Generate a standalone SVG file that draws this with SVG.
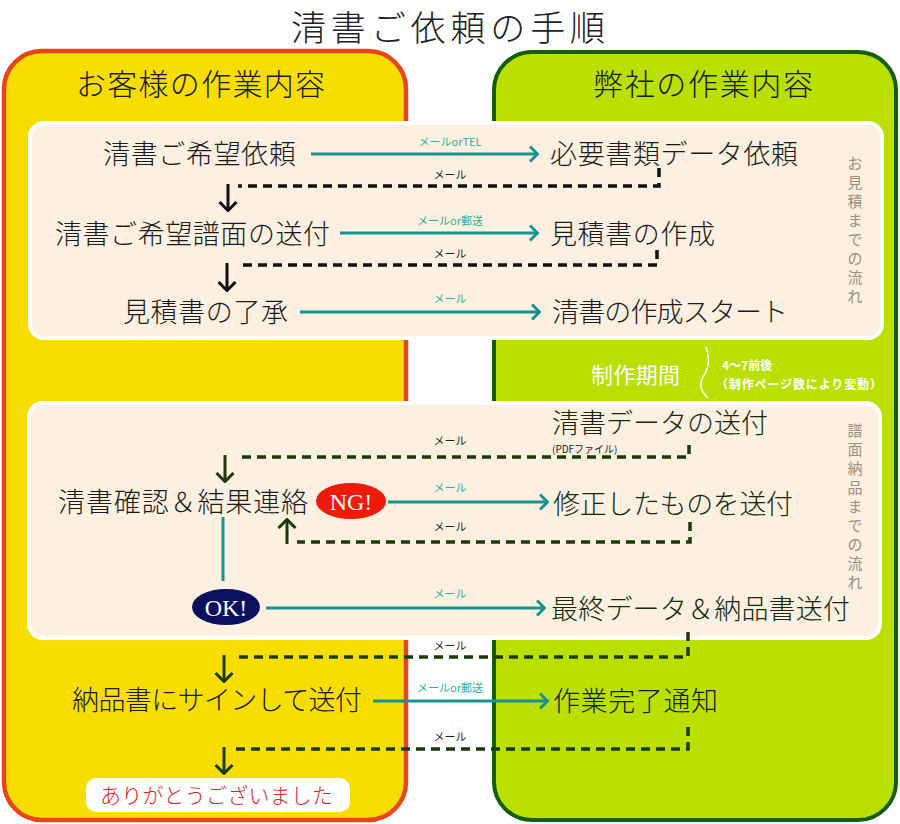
<svg xmlns="http://www.w3.org/2000/svg" width="900" height="824" viewBox="0 0 900 824">
<style>
text{font-family:"Noto Sans CJK JP","Noto Sans",sans-serif}
.main{font-size:27px;fill:#1a1a1a;font-weight:300}
.mainG{font-size:27px;fill:#14280a;font-weight:300}
.tl{font-size:11px;fill:#2aae9e;text-anchor:middle}
.bl{font-size:11px;fill:#222;text-anchor:middle}
.side{font-size:15px;fill:#9c8e80;text-anchor:middle}
.teal{stroke:#17938f;stroke-width:3;fill:none}
.dashK{stroke:#111;stroke-width:3.5;fill:none;stroke-dasharray:9 6}
.dashG{stroke:#1b3a08;stroke-width:3.5;fill:none;stroke-dasharray:9 6}
.arrK{stroke:#111;stroke-width:3;fill:none}
.arrG{stroke:#1b3a08;stroke-width:3;fill:none}
.oval{font-family:"Liberation Serif",serif;font-size:24px;fill:#fff;text-anchor:middle}
</style>
<defs>
<marker id="th" viewBox="0 0 10 18" refX="9" refY="9" markerWidth="10" markerHeight="18" markerUnits="userSpaceOnUse" orient="auto">
<path d="M1,1.5 L8.5,9 L1,16.5" fill="none" stroke="#17938f" stroke-width="3"/>
</marker>
<marker id="kh" viewBox="0 0 11 20" refX="10" refY="10" markerWidth="11" markerHeight="20" markerUnits="userSpaceOnUse" orient="auto">
<path d="M1,1.5 L9.5,10 L1,18.5" fill="none" stroke="#111" stroke-width="3"/>
</marker>
<marker id="gh" viewBox="0 0 11 20" refX="10" refY="10" markerWidth="11" markerHeight="20" markerUnits="userSpaceOnUse" orient="auto">
<path d="M1,1.5 L9.5,10 L1,18.5" fill="none" stroke="#1b3a08" stroke-width="3"/>
</marker>
</defs>
<rect width="900" height="824" fill="#fff"/>
<text x="291" y="41" font-size="35" font-weight="300" fill="#222" textLength="314">清書ご依頼の手順</text>

<g id="panel-customer">
<rect x="4" y="51" width="402" height="769" rx="38" fill="#f8de00" stroke="#e8461a" stroke-width="4.5"/>
<text x="76" y="95" font-size="30" font-weight="300" fill="#1a1a1a" textLength="249">お客様の作業内容</text>
</g>
<g id="panel-company">
<rect x="494" y="52" width="402" height="768" rx="38" fill="#b9e000" stroke="#135e06" stroke-width="4"/>
<text x="593" y="95" font-size="30" font-weight="300" fill="#1a1a1a" textLength="220">弊社の作業内容</text>
</g>

<g id="box-estimate">
<rect x="30" y="123" width="852" height="215" rx="14" fill="#fdf0e0" stroke="#fff" stroke-width="4"/>
<text class="side"><tspan x="855" y="169">お</tspan><tspan x="855" y="188">見</tspan><tspan x="855" y="207">積</tspan><tspan x="855" y="226">ま</tspan><tspan x="855" y="245">で</tspan><tspan x="855" y="264">の</tspan><tspan x="855" y="283">流</tspan><tspan x="855" y="302">れ</tspan></text>
</g>
<g id="box-delivery">
<rect x="29" y="403" width="851" height="235" rx="14" fill="#fdf0e0" stroke="#fff" stroke-width="4"/>
<text class="side"><tspan x="855" y="436">譜</tspan><tspan x="855" y="455">面</tspan><tspan x="855" y="474">納</tspan><tspan x="855" y="493">品</tspan><tspan x="855" y="512">ま</tspan><tspan x="855" y="531">で</tspan><tspan x="855" y="550">の</tspan><tspan x="855" y="569">流</tspan><tspan x="855" y="588">れ</tspan></text>
</g>

<g id="period">
<text x="591" y="383" font-size="22" fill="#fff" textLength="89">制作期間</text>
<path d="M706,347 Q712,364 703,377 Q697,388 708,398" fill="none" stroke="#fff" stroke-width="1.5"/>
<text x="722" y="370" font-size="12" font-weight="bold" fill="#fff">4〜7前後</text>
<text x="716" y="389" font-size="12" font-weight="bold" fill="#fff" textLength="166">（制作ページ数により変動）</text>
</g>

<g id="n-c1"><text class="main" x="103" y="164" textLength="193">清書ご希望依頼</text></g>
<g id="n-s1"><text class="main" x="550" y="164" textLength="248">必要書類データ依頼</text></g>
<g id="n-c2"><text class="main" x="55" y="244" textLength="275">清書ご希望譜面の送付</text></g>
<g id="n-s2"><text class="main" x="550" y="244" textLength="165">見積書の作成</text></g>
<g id="n-c3"><text class="main" x="123" y="322" textLength="165">見積書の了承</text></g>
<g id="n-s3"><text class="main" x="552" y="322" textLength="236">清書の作成スタート</text></g>
<g id="n-s4"><text class="mainG" x="552" y="433" textLength="216">清書データの送付</text>
<text x="552" y="453" font-size="10" fill="#222">(PDFファイル)</text></g>
<g id="n-c4"><text class="main" x="58" y="512" textLength="250">清書確認＆結果連絡</text></g>
<g id="n-ng"><ellipse cx="351" cy="501" rx="35" ry="18" fill="#ee1a0a"/><text class="oval" x="351" y="510">NG!</text></g>
<g id="n-ok"><ellipse cx="226" cy="607" rx="34" ry="18" fill="#0a0f5e"/><text class="oval" x="226" y="616">OK!</text></g>
<g id="n-s5"><text class="mainG" x="553" y="514" textLength="240">修正したものを送付</text></g>
<g id="n-s6"><text class="mainG" x="551" y="619" textLength="299">最終データ＆納品書送付</text></g>
<g id="n-c5"><text class="main" x="72" y="710" textLength="290">納品書にサインして送付</text></g>
<g id="n-s7"><text class="main" x="553" y="711" textLength="165">作業完了通知</text></g>
<g id="n-end"><rect x="86" y="778" width="264" height="34" rx="10" fill="#fff"/>
<text x="100" y="803" font-size="21" font-weight="300" fill="#d0281e" textLength="233">ありがとうございました</text></g>

<g id="connectors">
<path class="teal" d="M311,154 L538,154" marker-end="url(#th)"/>
<text class="tl" x="450" y="146">メールorTEL</text>
<path class="dashK" d="M659,168 L659,186 L238,186"/>
<text class="bl" x="450" y="179">メール</text>
<path class="arrK" d="M228,184 L228,211" marker-end="url(#kh)"/>

<path class="teal" d="M340,233 L538,233" marker-end="url(#th)"/>
<text class="tl" x="450" y="225">メールor郵送</text>
<path class="dashK" d="M657,250 L657,265 L238,265"/>
<text class="bl" x="450" y="258">メール</text>
<path class="arrK" d="M227,263 L227,291" marker-end="url(#kh)"/>

<path class="teal" d="M300,312 L540,312" marker-end="url(#th)"/>
<text class="tl" x="450" y="303">メール</text>

<path class="dashG" d="M689,445 L689,457 L236,457"/>
<text class="bl" x="450" y="445">メール</text>
<path class="arrG" d="M225,455 L225,482" marker-end="url(#gh)"/>

<path class="teal" d="M388,502 L548,502" marker-end="url(#th)"/>
<text class="tl" x="450" y="492">メール</text>
<path class="dashG" d="M690,522 L690,542 L297,542"/>
<text class="bl" x="450" y="531">メール</text>
<path class="arrG" d="M287,544 L287,519" marker-end="url(#gh)"/>

<path class="teal" d="M223,517 L223,581"/>
<path class="teal" d="M266,608 L545,608" marker-end="url(#th)"/>
<text class="tl" x="450" y="598">メール</text>

<path class="dashG" d="M688,632 L688,657 L236,657"/>
<text class="bl" x="450" y="650">メール</text>
<path class="arrG" d="M224,655 L224,682" marker-end="url(#gh)"/>

<path class="teal" d="M373,701 L548,701" marker-end="url(#th)"/>
<text class="tl" x="450" y="692">メールor郵送</text>

<path class="dashG" d="M688,727 L688,749 L236,749"/>
<text class="bl" x="450" y="741">メール</text>
<path class="arrG" d="M224,747 L224,774" marker-end="url(#gh)"/>
</g>
</svg>
